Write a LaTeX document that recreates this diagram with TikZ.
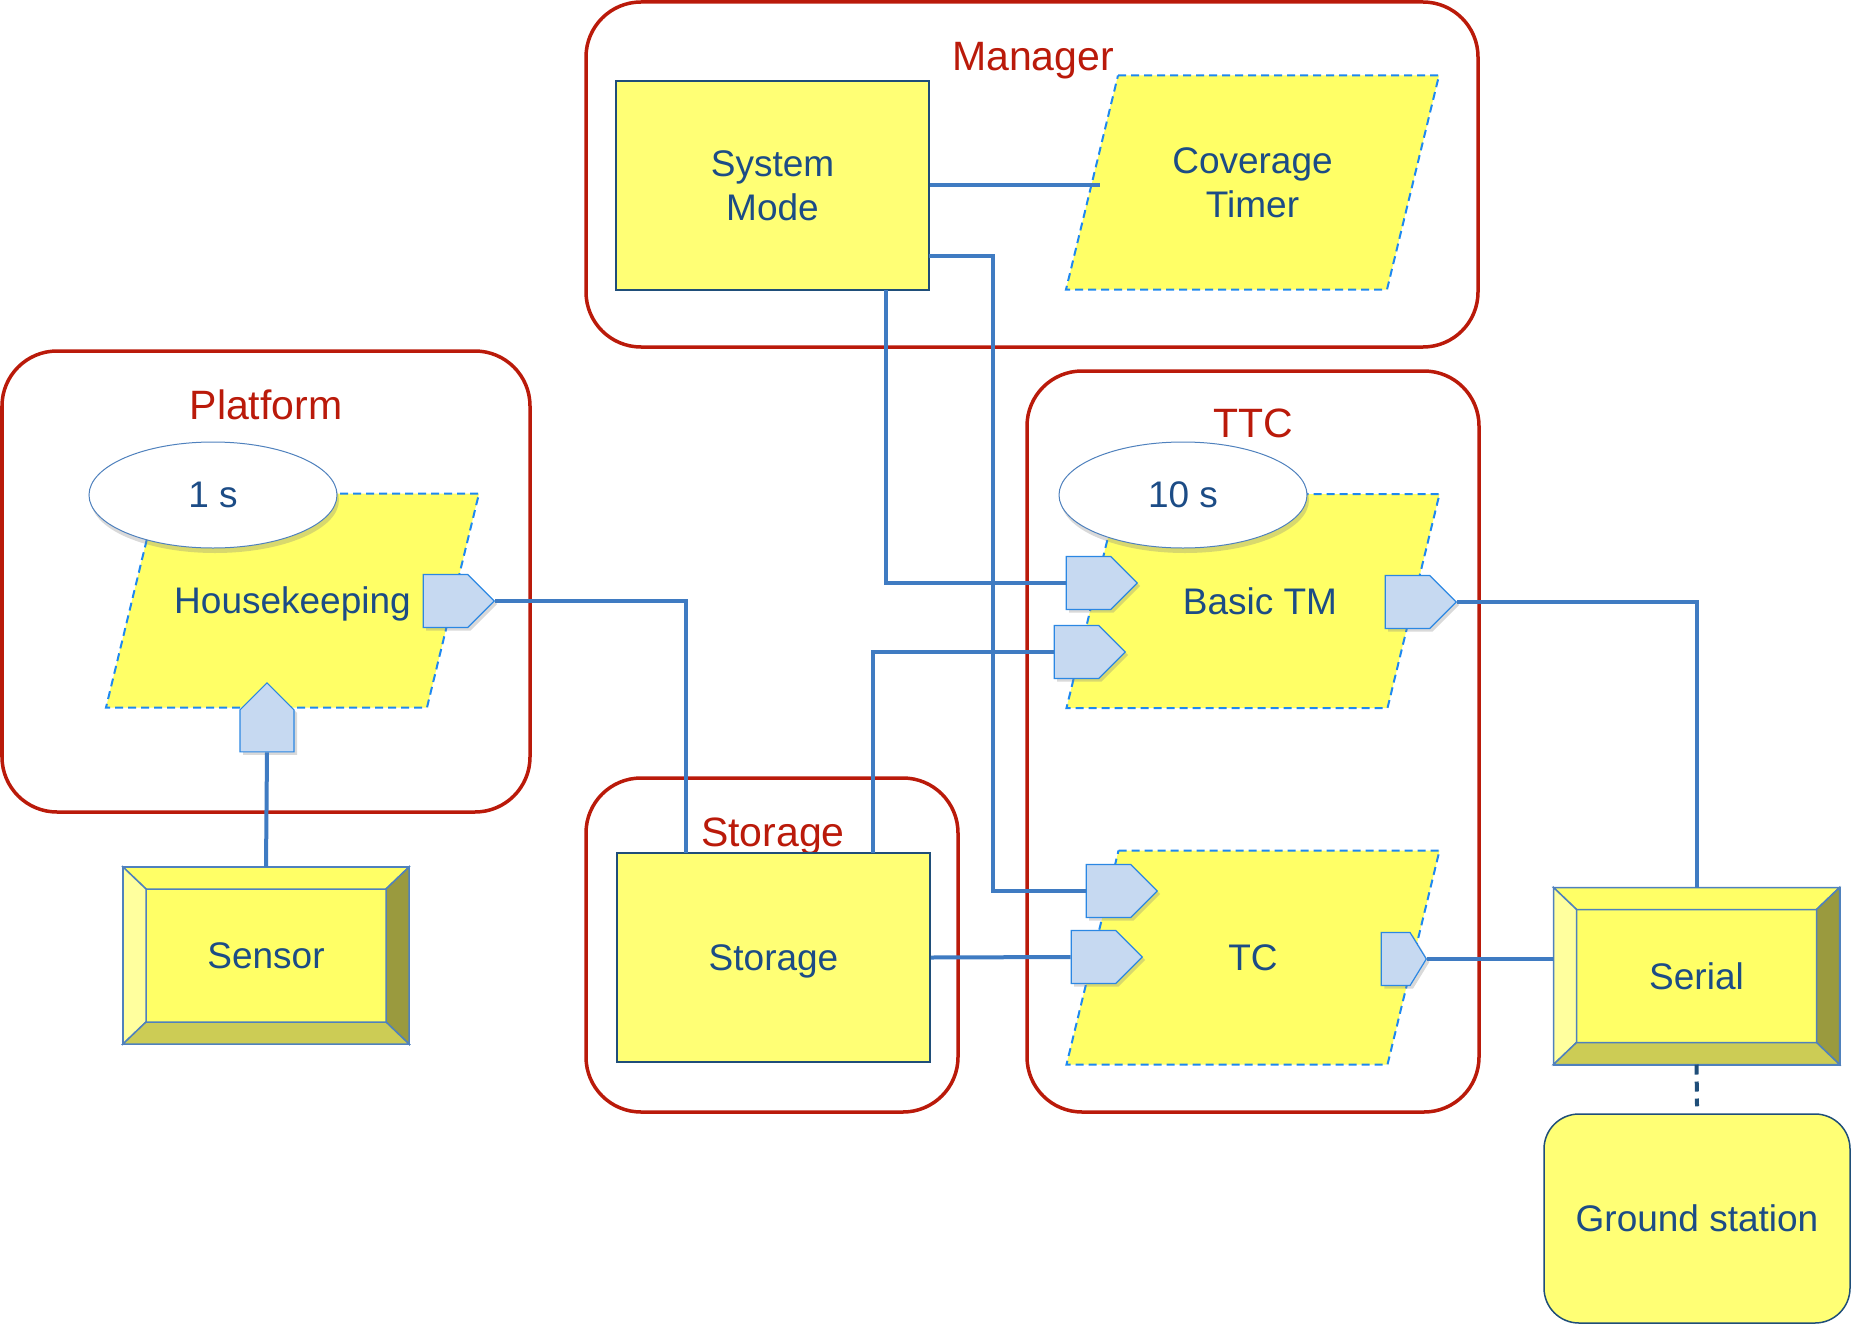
\documentclass[tikz,border=0pt]{standalone}
\usepackage{fontspec}
\setmainfont{Liberation Sans}
\usetikzlibrary{shapes.geometric,shapes.symbols,shadows,calc}
\definecolor{GroupRed}{HTML}{BA1A0A}
\definecolor{TextBlue}{HTML}{1C4C86}
\definecolor{BlockYellow}{HTML}{FFFF75}
\definecolor{TaskYellow}{HTML}{FFFF66}
\definecolor{TaskEdge}{HTML}{1E88F0}
\definecolor{PortFill}{HTML}{C6D9F1}
\definecolor{PortEdge}{HTML}{2B87E3}
\definecolor{WireBlue}{HTML}{3F7BC2}
\definecolor{EdgeBlue}{HTML}{4F81BD}
\definecolor{NavyEdge}{HTML}{1F4E79}
\definecolor{BevelLight}{HTML}{FFFF9E}
\definecolor{BevelLow}{HTML}{CCCC55}
\definecolor{BevelDark}{HTML}{9A9A3E}

\begin{document}
\begin{tikzpicture}[x=1pt,y=-1pt,
    group/.style={draw=GroupRed,line width=3.5,rounded corners=55,inner sep=0},
    grouplabel/.style={text=GroupRed,font=\fontsize{41}{48}\selectfont,inner sep=0,text depth=0},
    task/.style={fill=TaskYellow,draw=TaskEdge,line width=2,dash pattern=on 8pt off 5pt},
    tasktext/.style={text=TextBlue,font=\fontsize{37}{44}\selectfont,align=center,inner sep=0,text depth=0},
    block/.style={tasktext,fill=BlockYellow,draw=NavyEdge,line width=1.5,minimum width=313,minimum height=209},
    device/.style={tasktext,fill=TaskYellow,draw=EdgeBlue,line width=2,outer sep=0,minimum width=286,minimum height=177},
    bevel/.style={draw=EdgeBlue,line width=1.5},
    rate/.style={ellipse,tasktext,fill=white,draw=EdgeBlue,line width=1,minimum width=248,minimum height=106,drop shadow={shadow xshift=2pt,shadow yshift=-5pt,opacity=0.3}},
    port/.style={signal,signal to=east,signal pointer angle=90,fill=PortFill,draw=PortEdge,line width=1.2,inner sep=0,minimum width=71,minimum height=53,drop shadow={shadow xshift=3pt,shadow yshift=-3pt,opacity=0.3}},
    wire/.style={draw=WireBlue,line width=4}]
    \useasboundingbox (0,0) rectangle (1851,1324);

    \node[group,minimum width=892,minimum height=345] (manager) at (1032,174.5) {};
    \node[group,minimum width=528,minimum height=461] (platform) at (266,581.5) {};
    \node[group,minimum width=452,minimum height=741] (ttc) at (1253,741.5) {};
    \node[group,minimum width=372,minimum height=334] (storagegroup) at (772,945) {};
    \node[grouplabel] (managerlabel) at (1033,56) {Manager};
    \node[grouplabel] (platformlabel) at (266,405) {Platform};
    \node[grouplabel] (ttclabel) at (1253,423) {TTC};
    \node[grouplabel] (storagelabel) at (773,832) {Storage};

    \foreach \n/\x/\y/\dx/\txt in {hk/292.5/600.5/0/Housekeeping,cov/1252.5/182.5/0/{Coverage\\Timer},btm/1253/601/7/Basic TM,tc/1253/957.5/0/TC}{
        \filldraw[task] (\x-134.5,\y-107) -- ++(321,0) -- ++(-52,214) -- ++(-321,0) -- cycle;
        \node[tasktext] (\n) at (\x+\dx,\y) {\txt};
    }

    \node[block] (sysmode) at (772.5,185.5) {System\\Mode};
    \node[block] (storage) at (773.5,957.5) {Storage};
    \node[tasktext,fill=BlockYellow,draw=NavyEdge,line width=1.5,rounded corners=35,minimum width=306,minimum height=209] (ground) at (1697,1218.5) {Ground station};

    \foreach \n/\x/\y/\txt in {sensor/266/955.5/Sensor,serial/1696.5/976/Serial}{
        \node[device] (\n) at (\x,\y) {\txt};
        \filldraw[bevel,fill=TaskYellow] (\n.north west) -- ++(23,22) -- ($(\n.north east)+(-23,22)$) -- (\n.north east) -- cycle;
        \filldraw[bevel,fill=BevelLight] (\n.north west) -- ++(23,22) -- ($(\n.south west)+(23,-22)$) -- (\n.south west) -- cycle;
        \filldraw[bevel,fill=BevelDark] (\n.north east) -- ++(-23,22) -- ($(\n.south east)+(-23,-22)$) -- (\n.south east) -- cycle;
        \filldraw[bevel,fill=BevelLow] (\n.south west) -- ++(23,-22) -- ($(\n.south east)+(-23,-22)$) -- (\n.south east) -- cycle;
    }

    \node[port,anchor=east] (hkout) at (495,601) {};
    \node[port,signal to=north,minimum width=54,minimum height=42,anchor=north] (hkin) at (267,682) {};
    \node[port,anchor=east] (btmin1) at (1138,583) {};
    \node[port,anchor=east] (btmin2) at (1126,652) {};
    \node[port,anchor=east] (btmout) at (1457,602) {};
    \node[port,anchor=east] (tcin1) at (1158,891) {};
    \node[port,anchor=east] (tcin2) at (1143,957) {};
    \node[port,anchor=east,minimum width=45,signal pointer angle=117] (tcout) at (1427,959) {};

    \coordinate (hkdrop) at (686,853);
    \coordinate (smdown) at (886,290);
    \coordinate (smright) at (929,256);
    \coordinate (smbend) at (993,256);
    \coordinate (stup) at (873,853);
    \coordinate (covin) at (1100,185.5);

    \draw[wire] (sysmode.east) -- (covin);
    \draw[wire] (hkout.east) -| (hkdrop);
    \draw[wire] (sensor.north) -- (hkin.south);
    \draw[wire] (smdown) |- (btmin1.west);
    \draw[wire] (smright) -- (smbend) |- (tcin1.west);
    \draw[wire] (stup) |- (btmin2.west);
    \draw[wire] (storage.east) -- (tcin2.west);
    \draw[wire] (btmout.east) -| (serial.north);
    \draw[wire] (tcout.east) -- (tcout.east -| serial.west);
    \draw[draw=NavyEdge,line width=4,dash pattern=on 10pt off 7pt] (serial.south) -- ($(ground.north)+(0,-7)$);

    \node[rate] (hkrate) at (213,495) {1 s};
    \node[rate] (btmrate) at (1183,495) {10 s};
\end{tikzpicture}
\end{document}
